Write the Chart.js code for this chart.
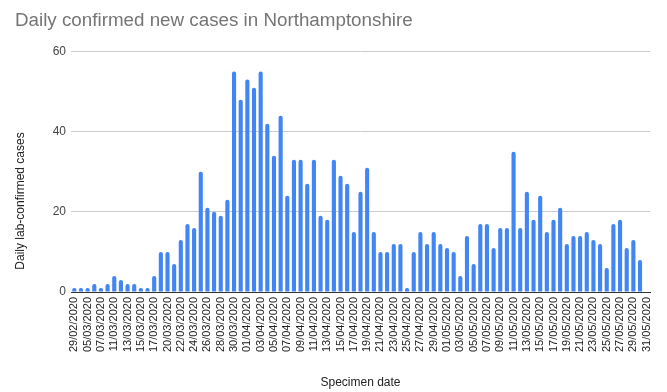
<!DOCTYPE html>
<html>
<head>
<meta charset="utf-8">
<script src="https://cdn.jsdelivr.net/npm/chart.js@4/dist/chart.umd.min.js"></script>
<style>
  html, body { margin: 0; padding: 0; background: #fff; }
  #wrap { width: 667px; height: 392px; }
</style>
</head>
<body>
<div id="wrap"><canvas id="cases-chart" width="667" height="392"></canvas></div>
<script>
// ── 데이터 ──────────────────────────────────────────────────────────────
const dates = [
  '29/02/2020', '03/03/2020', '05/03/2020', '06/03/2020', '07/03/2020', '10/03/2020',
  '11/03/2020', '12/03/2020', '13/03/2020', '14/03/2020', '15/03/2020', '16/03/2020',
  '17/03/2020', '19/03/2020', '20/03/2020', '21/03/2020', '22/03/2020', '23/03/2020',
  '24/03/2020', '25/03/2020', '26/03/2020', '27/03/2020', '28/03/2020', '29/03/2020',
  '30/03/2020', '31/03/2020', '01/04/2020', '02/04/2020', '03/04/2020', '04/04/2020',
  '05/04/2020', '06/04/2020', '07/04/2020', '08/04/2020', '09/04/2020', '10/04/2020',
  '11/04/2020', '12/04/2020', '13/04/2020', '14/04/2020', '15/04/2020', '16/04/2020',
  '17/04/2020', '18/04/2020', '19/04/2020', '20/04/2020', '21/04/2020', '22/04/2020',
  '23/04/2020', '24/04/2020', '25/04/2020', '26/04/2020', '27/04/2020', '28/04/2020',
  '29/04/2020', '30/04/2020', '01/05/2020', '02/05/2020', '03/05/2020', '04/05/2020',
  '05/05/2020', '06/05/2020', '07/05/2020', '08/05/2020', '09/05/2020', '10/05/2020',
  '11/05/2020', '12/05/2020', '13/05/2020', '14/05/2020', '15/05/2020', '16/05/2020',
  '17/05/2020', '18/05/2020', '19/05/2020', '20/05/2020', '21/05/2020', '22/05/2020',
  '23/05/2020', '24/05/2020', '25/05/2020', '26/05/2020', '27/05/2020', '28/05/2020',
  '29/05/2020', '30/05/2020', '31/05/2020'
];

// 31/05 은 아직 값 없음 (막대 없음)
const dailyCases = [
  1, 1, 1, 2, 1, 2, 4, 3, 2, 2, 1, 1, 4, 10, 10, 7, 13, 17, 16, 30,
  21, 20, 19, 23, 55, 48, 53, 51, 55, 42, 34, 44, 24, 33, 33, 27, 33, 19, 18, 33,
  29, 27, 15, 25, 31, 15, 10, 10, 12, 12, 1, 10, 15, 12, 15, 12, 11, 10, 4, 14,
  7, 17, 17, 11, 16, 16, 35, 16, 25, 18, 24, 15, 18, 21, 12, 14, 14, 15, 13, 12,
  6, 17, 18, 11, 13, 8, null
];

const yTicks = [0, 20, 40, 60];

// ── 차트 ────────────────────────────────────────────────────────────────
const FONT = 'Arial, "Liberation Sans", sans-serif';

// y축 제목: 시트 차트처럼 전체 높이 기준으로 가운데
const yTitlePlugin = {
  id: 'yTitle',
  afterDraw(chart) {
    const ctx = chart.ctx;
    ctx.save();
    ctx.translate(21, 201);
    ctx.rotate(-Math.PI / 2);
    ctx.font = '12px ' + FONT;
    ctx.fillStyle = '#222';
    ctx.textAlign = 'center';
    ctx.textBaseline = 'middle';
    ctx.fillText('Daily lab-confirmed cases', 0, 0);
    ctx.restore();
  }
};

new Chart(document.getElementById('cases-chart'), {
  type: 'bar',
  data: {
    labels: dates,
    datasets: [{
      label: 'Daily lab-confirmed cases',
      data: dailyCases,
      backgroundColor: '#4285f4',
      barPercentage: 0.62,
      categoryPercentage: 1,
      borderRadius: 2
    }]
  },
  plugins: [yTitlePlugin],
  options: {
    responsive: false,
    animation: false,
    layout: { padding: { top: 9, left: 15, right: 17, bottom: 0 } },
    plugins: {
      legend: { display: false },
      tooltip: { enabled: false },
      title: {
        display: true,
        text: 'Daily confirmed new cases in Northamptonshire',
        align: 'start',
        color: '#757575',
        font: { family: FONT, size: 18.8, weight: 'normal' },
        padding: { top: 1, bottom: 19 }
      }
    },
    scales: {
      x: {
        grid: { display: false, drawTicks: false },
        border: { color: '#333' },
        ticks: {
          autoSkip: false,
          minRotation: 90,
          maxRotation: 90,
          padding: 5,
          color: '#222',
          font: { family: FONT, size: 11 },
          callback: (v, i) => (i % 2 === 0 ? dates[i] : '')
        },
        title: {
          display: true,
          text: 'Specimen date',
          color: '#222',
          font: { family: FONT, size: 12 },
          padding: { top: 4, bottom: 2 }
        },
        afterFit: (s) => { s.height = 100; }
      },
      y: {
        min: 0,
        max: 60,
        afterBuildTicks: (s) => { s.ticks = yTicks.map(v => ({ value: v })); },
        grid: {
          drawTicks: false,
          color: (c) => (c.tick && c.tick.value === 0 ? '#333' : '#cccccc')
        },
        border: { display: false },
        ticks: {
          padding: 5,
          color: '#444',
          font: { family: FONT, size: 12 }
        },
        afterFit: (s) => { s.width = 56; }
      }
    }
  }
});
</script>
</body>
</html>
